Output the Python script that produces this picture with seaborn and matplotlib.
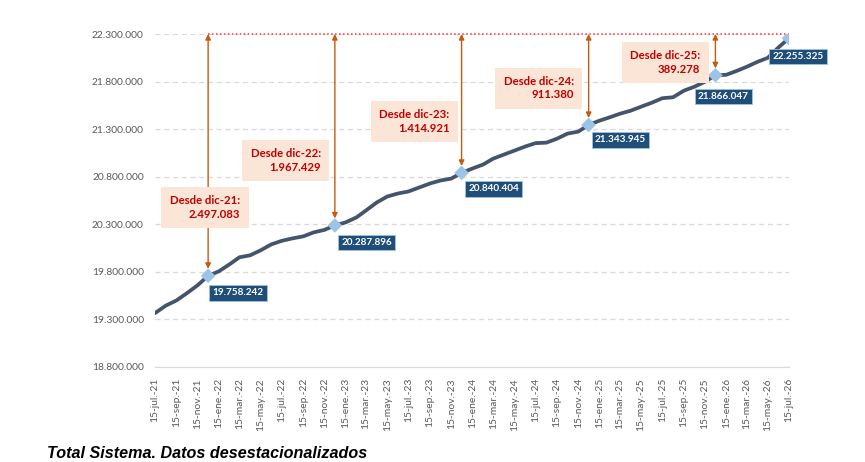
import matplotlib
matplotlib.use("Agg")
import matplotlib.pyplot as plt
import matplotlib.ticker as mticker
import seaborn as sns
import pandas as pd

# afiliados totales, media mensual desestacionalizada (dia 15 de cada mes)
fechas = pd.date_range("2021-07-01", periods=61, freq="MS") + pd.Timedelta(days=14)
afiliados = [
    19366000, 19445000, 19500000, 19576000, 19660000, 19758242, 19806000, 19880000, 19953000, 19974000,
    20026000, 20089000, 20126000, 20152000, 20173000, 20215000, 20241000, 20287896, 20320000, 20372000,
    20446000, 20530000, 20592000, 20624000, 20645000, 20687000, 20729000, 20760000, 20780000, 20840404,
    20886000, 20928000, 20990000, 21033000, 21074000, 21117000, 21153000, 21158000, 21200000, 21253000,
    21274000, 21343945, 21389000, 21426000, 21462000, 21494000, 21536000, 21578000, 21625000, 21635000,
    21704000, 21745000, 21798000, 21866047, 21871000, 21913000, 21955000, 22007000, 22050000, 22160000,
    22255325,
]
hitos = [5, 17, 29, 41, 53, 60]          # dic-21 ... dic-25 y ultimo dato
hitos_txt = ["dic-21", "dic-22", "dic-23", "dic-24", "dic-25"]
meses = ["ene.", "feb.", "mar.", "abr.", "may.", "jun.",
         "jul.", "ago.", "sep.", "oct.", "nov.", "dic."]
techo = 22300000

def miles(v):
    return f"{v:,.0f}".replace(",", ".")

sns.set_style("white")
plt.rcParams["font.family"] = ["Lato", "DejaVu Sans"]

fig = plt.figure(figsize=(8.65, 4.62), dpi=100)
ax = fig.add_axes([155 / 865, 1 - 367 / 462, 634 / 865, 333 / 462])

ax.yaxis.grid(True, color="#D9D9D9", linestyle=(0, (4, 3)), linewidth=0.9)
ax.set_axisbelow(True)

sns.lineplot(x=fechas, y=afiliados, ax=ax, color="#44546A", linewidth=2.7, zorder=3)

x_h = fechas[hitos]
y_h = [afiliados[i] for i in hitos]
sns.scatterplot(x=x_h, y=y_h, ax=ax, marker="D", s=55, color="#9DC3E6",
                edgecolor="none", zorder=6)

# linea roja de referencia en el ultimo valor (redondeado al techo)
ax.hlines(techo, fechas[hitos[0]], fechas[-1], colors="#FF3333",
          linestyles=(0, (1, 1.6)), linewidth=1.1, zorder=4, clip_on=False)

# cuadros de "Desde dic-xx": centro vertical y desplazamiento horizontal (px)
caja_y = [20477000, 20970000, 21380000, 21730000, 22000000]
caja_dx = [32, -14, -12, -15, -15]
ultimo = afiliados[-1]
for i, etq, cy, dx in zip(hitos[:-1], hitos_txt, caja_y, caja_dx):
    ax.annotate("", xy=(fechas[i], afiliados[i]), xytext=(fechas[i], techo),
                arrowprops=dict(arrowstyle="<|-|>", color="#C55A11", lw=1.0,
                                mutation_scale=8, shrinkA=0, shrinkB=5),
                zorder=5, annotation_clip=False)
    ax.annotate(f"Desde {etq}:\n{miles(ultimo - afiliados[i])}",
                xy=(fechas[i], cy), xytext=(dx, 0), textcoords="offset pixels",
                ha="right", va="center", multialignment="right",
                fontsize=8.2, fontweight="bold", color="#C00000",
                linespacing=1.25,
                bbox=dict(boxstyle="square,pad=0.75", fc="#FBE5D6", ec="none"),
                zorder=7)

# etiquetas de valor
desp = [(30, -17), (32, -17), (32, -16), (32, -15), (8, -21), (9, -18)]
for i, (dx, dy) in zip(hitos, desp):
    ax.annotate(miles(afiliados[i]), xy=(fechas[i], afiliados[i]),
                xytext=(dx, dy), textcoords="offset pixels",
                ha="center", va="center", fontsize=7.2, fontweight="bold",
                color="white",
                bbox=dict(boxstyle="square,pad=0.32", fc="#1F4E79", ec="#9DC3E6", lw=0.6),
                zorder=8)

ax.set_ylim(18800000, techo)
ax.set_xlim(fechas[0], fechas[-1])
ax.set_yticks(list(range(18800000, techo + 1, 500000)))
ax.yaxis.set_major_formatter(mticker.FuncFormatter(lambda v, p: miles(v)))

ticks = fechas[::2]
ax.set_xticks(ticks)
ax.set_xticklabels([f"15-{meses[d.month - 1]}-{d.year % 100}" for d in ticks], rotation=90)

ax.tick_params(axis="y", length=0, labelsize=7.4, labelcolor="#595959", pad=8)
ax.tick_params(axis="x", length=5, width=0.8, color="#D9D9D9", labelsize=7.4,
               labelcolor="#595959", pad=3, direction="out")
for s in ["top", "right", "left"]:
    ax.spines[s].set_visible(False)
ax.spines["bottom"].set_color("#D9D9D9")
ax.set_xlabel("")
ax.set_ylabel("")

fig.text(47 / 865, 1 - 446 / 462, "Total Sistema. Datos desestacionalizados",
         family=["Liberation Sans", "DejaVu Sans"], fontsize=11.6,
         fontweight="bold", fontstyle="italic", color="black", va="top")

fig.savefig("out.png", dpi=100)
plt.close(fig)
